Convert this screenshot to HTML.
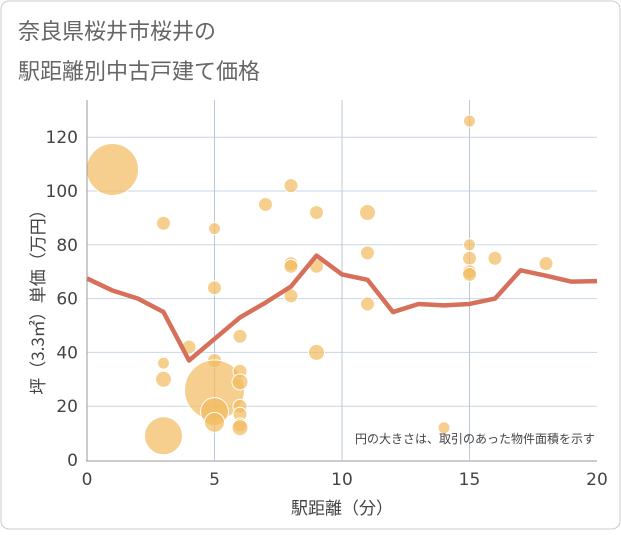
<!DOCTYPE html>
<html><head><meta charset="utf-8"><style>
body{margin:0;background:#fff;}
svg{font-family:"DejaVu Sans","Noto Sans CJK JP",sans-serif;}
</style></head><body>
<svg width="621" height="530" id="c">
<rect x="1" y="1" width="619" height="528" rx="8" fill="#fff" stroke="#ccc"/>
<text x="18" y="39" font-size="22" fill="#666" font-family="Noto Sans CJK JP, sans-serif">奈良県桜井市桜井の</text>
<text x="18" y="79" font-size="22" fill="#666" font-family="Noto Sans CJK JP, sans-serif">駅距離別中古戸建て価格</text>
<g id="grid"></g>
<g id="bubbles"></g>
<g id="line"></g>
<g id="axes"></g>
<text x="595" y="443" font-size="12" fill="#444" text-anchor="end" font-family="Noto Sans CJK JP, sans-serif">円の大きさは、取引のあった物件面積を示す</text>
<text x="342" y="514" font-size="17" fill="#444" text-anchor="middle" font-family="Noto Sans CJK JP, sans-serif">駅距離（分）</text>
<text transform="translate(44,298) rotate(-90)" font-size="17" fill="#444" text-anchor="middle" font-family="Noto Sans CJK JP, sans-serif">坪（3.3㎡）単価（万円）</text>
</svg>
<script>
const xTicks=[0,5,10,15,20];
const yTicks=[0,20,40,60,80,100,120];
const lineX=[0,1,2,3,4,5,6,7,8,9,10,11,12,13,14,15,16,17,18,19,20];
const lineY=[67.5,63,60,55,37,45,53,58.5,64.5,76,69,67,55,58,57.5,58,60,70.5,68.5,66.3,66.5];
const bubX=[1,3,3,3,3,4,5,5,5,5,5,5,6,6,6,6,6,6,6,7,8,8,8,8,9,9,9,11,11,11,14,15,15,15,15,15,16,18];
const bubY=[108,88,36,30,9,42,86,64,37,26,18,14,46,33,29,20,17,13,12,95,102,73,72,61,92,72,40,92,77,58,12,126,80,75,70,69,75,73];
const bubSize=[26,7,6,8,19,7,6,7,7,30,14,10,7,7,8,7,7,7,8,7,7,7,7,7,7,7,8,8,7,7,6,6,6,7,7,7,7,7];
const X=v=>87+v*25.5, Y=v=>460-v*2.69;
const ns="http://www.w3.org/2000/svg";
function mk(t,a,p){const e=document.createElementNS(ns,t);for(const k in a)e.setAttribute(k,a[k]);p.appendChild(e);return e;}
const g=document.getElementById('grid'),ax=document.getElementById('axes');
yTicks.forEach(v=>{if(v>0){const l=mk('line',{x1:87,x2:597,y1:Y(v),y2:Y(v),stroke:'#c9d6e6'},g);}
const t=mk('text',{x:78,y:Y(v)+6,'font-size':17,fill:'#444','text-anchor':'end'},ax);t.textContent=v;});
xTicks.forEach(v=>{if(v>0&&v<20){const l=mk('line',{x1:X(v),x2:X(v),y1:100,y2:460,stroke:'#b8c8dc'},g);}
const t=mk('text',{x:X(v),y:485,'font-size':17,fill:'#444','text-anchor':'middle'},ax);t.textContent=v;});
const a1=mk('line',{x1:87,x2:87,y1:100,y2:461,stroke:'#999'},ax);
const a2=mk('line',{x1:86,x2:597,y1:461,y2:461,stroke:'#999'},ax);
const b=document.getElementById('bubbles');
bubX.forEach((v,i)=>{const c=mk('circle',{cx:X(v),cy:Y(bubY[i]),r:bubSize[i],fill:'rgba(242,186,94,0.7)',stroke:'#fff','stroke-width':1},b);
});
const p=mk('polyline',{points:lineX.map((v,i)=>X(v)+','+Y(lineY[i])).join(' '),fill:'none',stroke:'#d6705a','stroke-width':4.5,'stroke-linejoin':'round'},document.getElementById('line'));

</script>
</body></html>
